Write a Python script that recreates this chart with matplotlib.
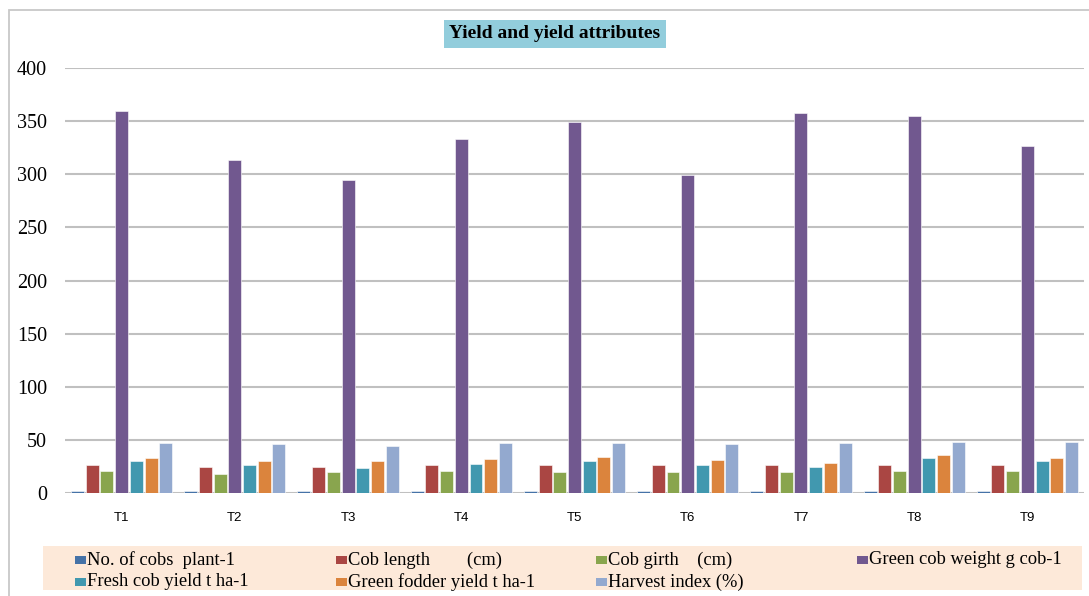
import matplotlib
matplotlib.use("Agg")
import matplotlib.pyplot as plt
from matplotlib.patches import Rectangle
import numpy as np

# ---- data ----
treatments = ["T1", "T2", "T3", "T4", "T5", "T6", "T7", "T8", "T9"]
series_names = [
    "No. of cobs  plant-1",
    "Cob length        (cm)",
    "Cob girth    (cm)",
    "Green cob weight g cob-1",
    "Fresh cob yield t ha-1",
    "Green fodder yield t ha-1",
    "Harvest index (%)",
]
cobs_per_plant = [1.9, 1.9, 1.9, 1.9, 1.9, 1.9, 1.9, 1.9, 1.9]
cob_length = [26.1, 24.8, 24.8, 26.1, 26.1, 26.1, 26.1, 26.1, 26.1]
cob_girth = [20.5, 18.0, 19.3, 20.5, 19.3, 19.3, 19.3, 20.5, 20.5]
green_cob_weight = [360, 313, 295, 333, 349, 299, 358, 355, 327]
fresh_cob_yield = [29.8, 26.1, 23.9, 27.3, 29.8, 26.1, 24.8, 32.9, 29.8]
green_fodder_yield = [32.9, 29.8, 29.8, 31.7, 34.2, 30.7, 28.3, 35.4, 32.9]
harvest_index = [47.2, 45.7, 44.4, 47.2, 47.2, 45.7, 47.2, 48.1, 48.1]

series = [cobs_per_plant, cob_length, cob_girth, green_cob_weight,
          fresh_cob_yield, green_fodder_yield, harvest_index]
colors = ["#4572A7", "#AA4643", "#89A54E", "#71588F",
          "#4198AF", "#DB843D", "#93A9CF"]
yticks = [0, 50, 100, 150, 200, 250, 300, 350, 400]

# ---- figure ----
W, H = 1089, 596
fig = plt.figure(figsize=(W / 100, H / 100), dpi=100)
fig.patch.set_facecolor("white")

# outer chart frame
fig.patches.append(Rectangle((9 / W, -0.05), 1.2, 1 - 10 / H + 0.05,
                             transform=fig.transFigure, facecolor="none",
                             edgecolor="#C8C8C8", lw=1.3, zorder=0))

ax = fig.add_axes([65 / W, (H - 493) / H, (1084 - 65) / W, (493 - 68) / H])
ax.set_facecolor("white")

x = np.arange(len(treatments))
n = len(series)
slot = 0.9095 / n
bar_w = slot * 0.88
for i, (vals, c) in enumerate(zip(series, colors)):
    offs = -0.9095 / 2 + slot * (i + 0.5)
    ax.bar(x + offs, vals, width=bar_w, color=c, edgecolor="white",
           linewidth=0.4, zorder=3)

ax.set_xlim(-0.5, len(treatments) - 0.5)
ax.set_ylim(0, 400)
ax.set_yticks(yticks)
ax.set_yticklabels([str(v) for v in yticks], fontfamily="Liberation Serif",
                   fontsize=14.5)
ax.set_xticks(x)
ax.set_xticklabels(treatments, fontfamily="Liberation Sans", fontsize=9.5)
ax.tick_params(axis="y", length=0, pad=13)
ax.tick_params(axis="x", length=0, pad=14)
ax.yaxis.grid(True, color="#C0C0C0", lw=1.5, zorder=0)
ax.set_axisbelow(True)
for s in ax.spines.values():
    s.set_visible(False)

# title
fig.text(555 / W, 1 - 34 / H, "Yield and yield attributes",
         ha="center", va="center", fontfamily="Liberation Serif",
         fontweight="bold", fontsize=14,
         bbox=dict(boxstyle="square,pad=0.3", facecolor="#92CDDC",
                   edgecolor="none"))

# legend panel
fig.patches.append(Rectangle((43 / W, 1 - 590 / H), (1082 - 43) / W, 44 / H,
                             transform=fig.transFigure, facecolor="#FDE9D9",
                             edgecolor="none", zorder=1))
col_x = [75, 336, 596, 857]
row_y = [560, 582]
for k, (name, c) in enumerate(zip(series_names, colors)):
    r, col = divmod(k, 4)
    mx, my = col_x[col], row_y[r]
    fig.patches.append(Rectangle((mx / W, 1 - (my + 4) / H), 11 / W, 8 / H,
                                 transform=fig.transFigure, facecolor=c,
                                 edgecolor="none", zorder=2))
    fig.text((mx + 12) / W, 1 - my / H, name, ha="left", va="center",
             fontfamily="Liberation Serif", fontsize=13.3, zorder=3)

fig.savefig("out.png", dpi=100)
